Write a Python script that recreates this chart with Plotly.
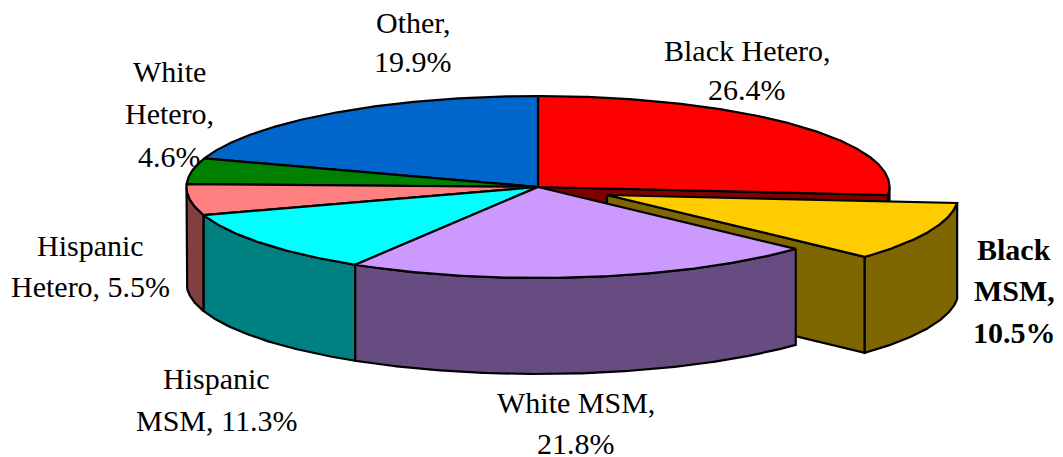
import numpy as np
import plotly.graph_objects as go

categories = ["Black Hetero", "Black MSM", "White MSM", "Hispanic MSM", "Hispanic Hetero", "White Hetero", "Other"]
values = [26.4, 10.5, 21.8, 11.3, 5.5, 4.6, 19.9]
top_colors = ["#FF0000", "#FFCC00", "#CC99FF", "#00FFFF", "#FF8080", "#008000", "#0066CC"]
side_colors = ["#800000", "#806600", "#664C80", "#008080", "#804040", "#004000", "#003366"]

W, H = 1063, 457
PAGE_MARGIN = 8
CX, CY, RX, RY, DEPTH = 538.0, 187.0, 351.5, 91.0, 96.0
EXPLODE = {"Black MSM": (69.0, 8.0)}
LINE_W = 2.2
DRAW_ORDER = ["Black Hetero", "Other", "White Hetero", "Hispanic Hetero", "Hispanic MSM", "Black MSM", "White MSM"]

labels = [
    (["Black Hetero,", "26.4%"], 747, [50, 89], False),
    (["Other,", "19.9%"], 413, [22, 61], False),
    (["White", "Hetero,", "4.6%"], 169, [71, 113, 156], False),
    (["Hispanic", "Hetero, 5.5%"], 90, [245, 286], False),
    (["Hispanic", "MSM, 11.3%"], 216, [378, 420], False),
    (["White MSM,", "21.8%"], 576, [402, 443], False),
    (["Black", "MSM,", "10.5%"], 1014, [249, 290, 332], True),
]

total = sum(values)
edges = np.concatenate([[0.0], np.cumsum(values)]) / total * 360.0
fig = go.Figure()


def cx_of(t, dx):
    return CX + dx + RX * np.sin(t)


def cy_of(t, dy):
    return CY + dy - RY * np.cos(t)


def rim(a, b, dx, dy, drop=0.0):
    t = np.radians(np.linspace(a, b, max(int(abs(b - a) * 2), 2)))
    return cx_of(t, dx), cy_of(t, dy) + drop


def poly(xs, ys, fill):
    fig.add_trace(go.Scatter(
        x=list(xs) + [xs[0]], y=list(ys) + [ys[0]], mode="lines", fill="toself",
        fillcolor=fill, line=dict(color="black", width=LINE_W), hoverinfo="skip", showlegend=False,
    ))


for name in DRAW_ORDER:
    i = categories.index(name)
    a, b = edges[i], edges[i + 1]
    dx, dy = EXPLODE.get(name, (0.0, 0.0))
    ax, ay = CX + dx, CY + dy
    exploded_neighbour_next = i + 1 < len(categories) and categories[i + 1] in EXPLODE
    # radial cut face exposed by the exploded slice
    if exploded_neighbour_next or name in EXPLODE:
        t = np.radians(b)
        ex, ey = cx_of(t, dx), cy_of(t, dy)
        poly([ax, ex, ex, ax], [ay, ey, ey + DEPTH, ay + DEPTH], side_colors[i])
    # outer wall, front half of the ellipse only
    lo, hi = max(a, 90.0), min(b, 270.0)
    if hi > lo:
        x1, y1 = rim(lo, hi, dx, dy)
        x2, y2 = rim(hi, lo, dx, dy, DEPTH)
        poly(np.r_[x1, x2], np.r_[y1, y2], side_colors[i])
    # top
    x1, y1 = rim(a, b, dx, dy)
    poly(np.r_[ax, x1], np.r_[ay, y1], top_colors[i])

annotations = []
for lines, x, ys, bold in labels:
    for line, y in zip(lines, ys):
        annotations.append(dict(
            x=x, y=y, text=f"<b>{line}</b>" if bold else line, showarrow=False,
            xanchor="center", yanchor="middle",
            font=dict(family="Liberation Serif", size=30, color="black"),
        ))

fig.update_layout(
    width=W - PAGE_MARGIN, height=H - PAGE_MARGIN, margin=dict(l=0, r=0, t=0, b=0),
    paper_bgcolor="white", plot_bgcolor="white", showlegend=False,
    xaxis=dict(range=[PAGE_MARGIN, W], visible=False, fixedrange=True),
    yaxis=dict(range=[H, PAGE_MARGIN], visible=False, fixedrange=True),
    annotations=annotations,
)
fig.write_html("out.html", config={"displayModeBar": False})
